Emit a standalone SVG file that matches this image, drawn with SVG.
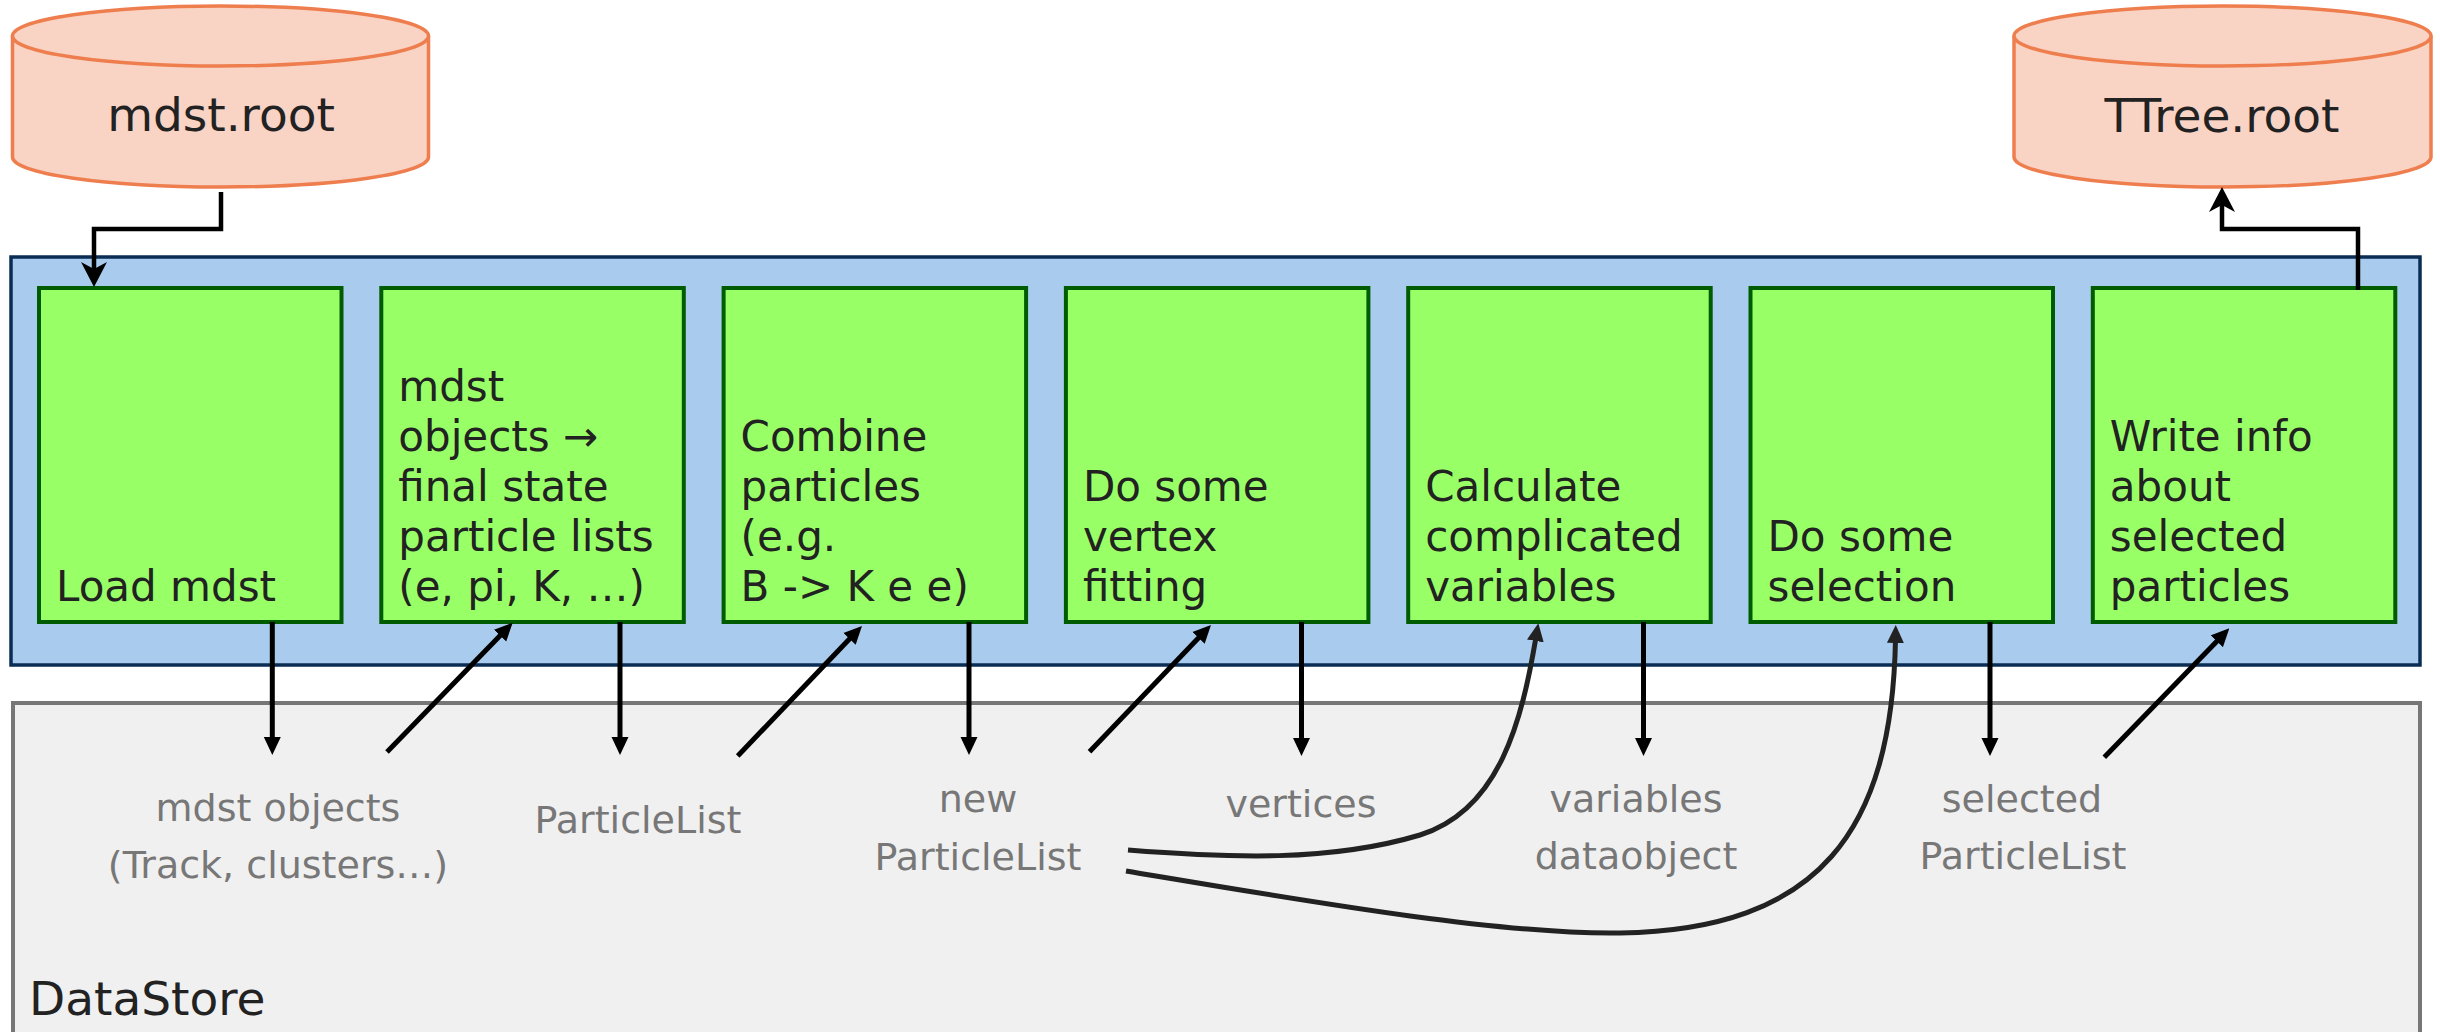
<svg xmlns="http://www.w3.org/2000/svg" width="2440" height="1032" viewBox="0 0 2440 1032">
  <style>
    text { font-family: "DejaVu Sans", Verdana, sans-serif; }
    .db { fill: #F9D3C4; stroke: #EF7E4F; stroke-width: 3.5; }
    .dbtxt { font-size: 47px; fill: #222222; text-anchor: middle; }
    .step { fill: #99FF66; stroke: #005C00; stroke-width: 4; }
    .steptxt { font-size: 42px; fill: #222222; }
    .item { font-size: 38px; fill: #777777; text-anchor: middle; }
    .flow { fill: none; stroke: #000000; stroke-width: 4.5; }
    .link { fill: none; stroke: #000000; stroke-width: 5; }
    .curve { fill: none; stroke: #222222; stroke-width: 5; }
  </style>
  <defs>
    <marker id="classic" markerUnits="userSpaceOnUse" markerWidth="26" markerHeight="26" viewBox="0 0 26 26" refX="7" refY="13" orient="auto">
      <path d="M0,0 L25,13 L0,26 L7,13 z" fill="#000000"/>
    </marker>
    <marker id="block" markerUnits="userSpaceOnUse" markerWidth="18" markerHeight="18" viewBox="0 0 18 18" refX="4" refY="9" orient="auto">
      <path d="M0,0.5 L18,9 L0,17.5 z" fill="#000000"/>
    </marker>
    <marker id="blockDark" markerUnits="userSpaceOnUse" markerWidth="18" markerHeight="18" viewBox="0 0 18 18" refX="4" refY="9" orient="auto">
      <path d="M0,0.5 L18,9 L0,17.5 z" fill="#222222"/>
    </marker>
  </defs>

  <!-- DataStore area -->
  <g id="datastore">
    <rect x="13" y="703" width="2407" height="400" fill="#F0F0F0" stroke="#777777" stroke-width="4"/>
    <text x="29" y="1015" style="font-size:47px;fill:#222222">DataStore</text>
  </g>

  <!-- analysis path container -->
  <g id="path">
    <rect x="11" y="257" width="2409" height="408" fill="#A9CCEE" stroke="#0B2D54" stroke-width="3.5"/>
  </g>

  <!-- input / output files -->
  <g id="mdst-root">
    <path class="db" d="M12.5,36 A208,30 0 0 1 428.5,36 V157 A208,30 0 0 1 12.5,157 Z"/>
    <path class="db" fill="none" d="M12.5,36 A208,30 0 0 0 428.5,36"/>
    <text class="dbtxt" x="221" y="131">mdst.root</text>
  </g>
  <g id="ttree-root">
    <path class="db" d="M2014,36 A208.5,30 0 0 1 2431,36 V157 A208.5,30 0 0 1 2014,157 Z"/>
    <path class="db" fill="none" d="M2014,36 A208.5,30 0 0 0 2431,36"/>
    <text class="dbtxt" x="2222" y="132">TTree.root</text>
  </g>

  <!-- modules -->
  <g id="load-mdst">
    <rect class="step" x="39" y="288" width="302.5" height="334"/>
    <text class="steptxt" x="56" y="601">Load mdst</text>
  </g>
  <g id="fill-lists">
    <rect class="step" x="381.3" y="288" width="302.5" height="334"/>
    <text class="steptxt" x="398.3" y="401">mdst</text>
    <text class="steptxt" x="398.3" y="451">objects →</text>
    <text class="steptxt" x="398.3" y="501">final state</text>
    <text class="steptxt" x="398.3" y="551">particle lists</text>
    <text class="steptxt" x="398.3" y="601">(e, pi, K, …)</text>
  </g>
  <g id="combine">
    <rect class="step" x="723.6" y="288" width="302.5" height="334"/>
    <text class="steptxt" x="740.6" y="451">Combine</text>
    <text class="steptxt" x="740.6" y="501">particles</text>
    <text class="steptxt" x="740.6" y="551">(e.g.</text>
    <text class="steptxt" x="740.6" y="601">B -&gt; K e e)</text>
  </g>
  <g id="vertex-fit">
    <rect class="step" x="1065.9" y="288" width="302.5" height="334"/>
    <text class="steptxt" x="1082.9" y="501">Do some</text>
    <text class="steptxt" x="1082.9" y="551">vertex</text>
    <text class="steptxt" x="1082.9" y="601">fitting</text>
  </g>
  <g id="variables">
    <rect class="step" x="1408.2" y="288" width="302.5" height="334"/>
    <text class="steptxt" x="1425.2" y="501">Calculate</text>
    <text class="steptxt" x="1425.2" y="551">complicated</text>
    <text class="steptxt" x="1425.2" y="601">variables</text>
  </g>
  <g id="selection">
    <rect class="step" x="1750.5" y="288" width="302.5" height="334"/>
    <text class="steptxt" x="1767.5" y="551">Do some</text>
    <text class="steptxt" x="1767.5" y="601">selection</text>
  </g>
  <g id="write-ntuple">
    <rect class="step" x="2092.8" y="288" width="302.5" height="334"/>
    <text class="steptxt" x="2109.8" y="451">Write info</text>
    <text class="steptxt" x="2109.8" y="501">about</text>
    <text class="steptxt" x="2109.8" y="551">selected</text>
    <text class="steptxt" x="2109.8" y="601">particles</text>
  </g>

  <!-- objects in the DataStore -->
  <g id="store-items">
    <text class="item" x="278" y="821">mdst objects</text>
    <text class="item" x="278" y="878">(Track, clusters…)</text>
    <text class="item" x="638" y="833">ParticleList</text>
    <text class="item" x="978" y="812">new</text>
    <text class="item" x="978" y="870">ParticleList</text>
    <text class="item" x="1301" y="817">vertices</text>
    <text class="item" x="1636" y="812">variables</text>
    <text class="item" x="1636" y="869">dataobject</text>
    <text class="item" x="2022" y="812">selected</text>
    <text class="item" x="2023" y="869">ParticleList</text>
  </g>

  <!-- connectors -->
  <g id="connectors">
    <path class="flow" d="M221,192 V229 H94 V269" marker-end="url(#classic)"/>
    <path class="flow" d="M2358,290 V229 H2222 V205" marker-end="url(#classic)"/>

    <path class="link" d="M272.3,622 V741" marker-end="url(#block)"/>
    <path class="link" d="M620,622 V741" marker-end="url(#block)"/>
    <path class="link" d="M969,622 V741" marker-end="url(#block)"/>
    <path class="link" d="M1301.5,622 V742" marker-end="url(#block)"/>
    <path class="link" d="M1643.5,622 V742" marker-end="url(#block)"/>
    <path class="link" d="M1990,622 V742" marker-end="url(#block)"/>

    <path class="link" d="M387,752 L502.9,632.7" marker-end="url(#block)"/>
    <path class="link" d="M737.7,756 L852.3,636.1" marker-end="url(#block)"/>
    <path class="link" d="M1089.5,751.7 L1201.3,635.1" marker-end="url(#block)"/>
    <path class="link" d="M2104.3,757.3 L2219.6,638.4" marker-end="url(#block)"/>

    <path class="curve" d="M1128,850 C1230,858 1330,862 1420,835 C1500,810 1522,720 1536,637" marker-end="url(#blockDark)"/>
    <path class="curve" d="M1126,871 C1300,900 1500,935 1620,933 C1820,930 1892,830 1895.5,639" marker-end="url(#blockDark)"/>
  </g>
</svg>
